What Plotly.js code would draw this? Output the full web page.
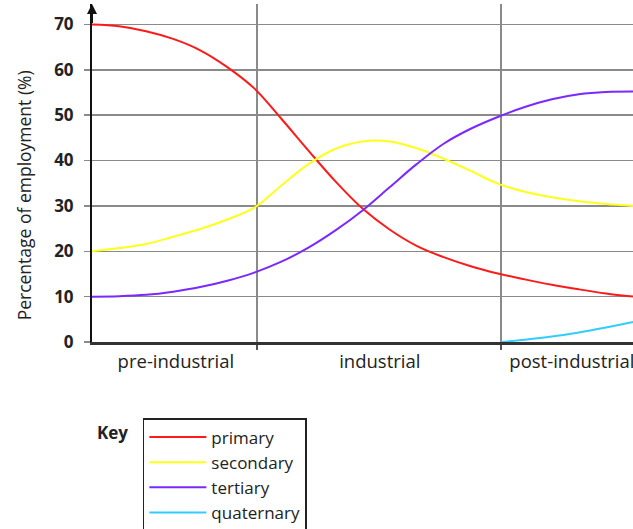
<!DOCTYPE html>
<html>
<head>
<meta charset="utf-8">
<script src="https://cdn.plot.ly/plotly-3.0.1.min.js"></script>
<style>html,body{margin:0;padding:0;background:#fff;}#chart{width:633px;height:529px;}</style>
</head>
<body>
<div id="chart"></div>
<script>
// Stages (x position units: 0 = start of chart, 100 = right edge)
const stageNames = ['pre-industrial', 'industrial', 'post-industrial'];
const stageCenters = [15.5, 53.2, 88.7];
const stageBounds = [30.5, 75.6];
const yTicks = [0, 10, 20, 30, 40, 50, 60, 70];

const timeX = [0, 5, 10, 15, 20, 25, 30, 35, 40, 45, 50, 55, 60, 65, 70, 75, 80, 85, 90, 95, 100];
const primaryY = [70, 69.6, 68.5, 66.8, 64.3, 60.6, 55.9, 49.2, 42.2, 35.4, 29.4, 24.8, 21.2, 18.7, 16.7, 15.1, 13.8, 12.6, 11.6, 10.7, 10.0];
const secondaryY = [20, 20.7, 21.6, 23.2, 24.9, 27.0, 29.6, 34.5, 39.2, 42.6, 44.2, 44.2, 42.7, 40.4, 37.7, 34.9, 33.1, 31.9, 31.0, 30.4, 30.0];
const tertiaryY = [10, 10.1, 10.4, 11.1, 12.1, 13.5, 15.3, 17.7, 20.8, 24.6, 29.0, 34.1, 39.2, 43.7, 47.0, 49.6, 51.8, 53.5, 54.6, 55.1, 55.2];

// quaternary only appears in the post-industrial stage
const quaternaryX = [75.6, 80, 85, 90, 95, 100];
const quaternaryY = [0, 0.5, 1.2, 2.1, 3.2, 4.4];

const seriesNames = ['primary', 'secondary', 'tertiary', 'quaternary'];
const seriesColors = ['#ff1a1a', '#ffff1a', '#7a29ff', '#33ccff'];
const seriesX = [timeX, timeX, timeX, quaternaryX];
const seriesY = [primaryY, secondaryY, tertiaryY, quaternaryY];

const FONT = 'Open Sans, Noto Sans, sans-serif';

const traces = seriesNames.map((n, i) => ({
  type: 'scatter', mode: 'lines', name: n,
  x: seriesX[i], y: seriesY[i],
  line: {color: seriesColors[i], width: 2, shape: 'spline', smoothing: 1},
  cliponaxis: false,
  hoverinfo: 'skip'
}));

const layout = {
  width: 633, height: 529,
  margin: {l: 92, r: 0, t: 4, b: 187, autoexpand: false},
  paper_bgcolor: '#fff', plot_bgcolor: '#fff',
  showlegend: true,
  legend: {
    x: 0.094, y: -0.225, xanchor: 'left', yanchor: 'top',
    bordercolor: '#222', borderwidth: 1.5,
    font: {family: FONT, size: 17, color: '#222'},
    itemwidth: 57,
    tracegroupgap: 0
  },
  xaxis: {
    range: [0, 100], fixedrange: true,
    tickmode: 'array', tickvals: stageBounds, showticklabels: false,
    ticks: 'outside', ticklen: 5, tickcolor: '#555', tickwidth: 1.5,
    showgrid: true, gridcolor: '#8a8a8a', gridwidth: 1.5,
    zeroline: false,
    showline: true, linecolor: '#333', linewidth: 2.5
  },
  xaxis2: {
    overlaying: 'x', range: [0, 100], fixedrange: true,
    tickmode: 'array', tickvals: stageCenters, ticktext: stageNames,
    side: 'bottom', anchor: 'y',
    ticks: '', showgrid: false, zeroline: false, showline: false,
    ticklabelstandoff: 6, ticklabeloverflow: 'allow',
    tickfont: {family: FONT, size: 18.5, color: '#222'}
  },
  yaxis: {
    range: [0, 74.5], fixedrange: true,
    tickmode: 'array', tickvals: yTicks,
    ticks: 'outside', ticklen: 6, tickcolor: '#8a8a8a', tickwidth: 1.5,
    showgrid: true, gridcolor: '#8a8a8a', gridwidth: 1.5,
    zeroline: false,
    showline: true, linecolor: '#111', linewidth: 2,
    ticklabelstandoff: 7,
    tickfont: {family: FONT, size: 17, color: '#222', weight: 'bold'}
  },
  annotations: [
    {x: 0, y: 74.5, ax: 0, ay: 70, xref: 'x', yref: 'y', axref: 'x', ayref: 'y',
     showarrow: true, arrowhead: 2, arrowsize: 1, arrowwidth: 2, arrowcolor: '#111', text: ''},
    {x: -0.125, y: 0.435, xref: 'paper', yref: 'paper', xanchor: 'center', yanchor: 'middle',
     textangle: -90, showarrow: false,
     text: 'Percentage of employment (%)', font: {family: FONT, size: 17.5, color: '#222'}},
    {x: 0.0055, y: -0.269, xref: 'paper', yref: 'paper', xanchor: 'left', yanchor: 'middle', showarrow: false,
     text: '<b>Key</b>', font: {family: FONT, size: 17, color: '#222'}}
  ]
};

// invisible helper trace so the second x axis (stage labels) is drawn
traces.push({type: 'scatter', x: [0], y: [0], xaxis: 'x2', yaxis: 'y', mode: 'markers',
  marker: {opacity: 0}, showlegend: false, hoverinfo: 'skip'});

Plotly.newPlot('chart', traces, layout, {displayModeBar: false, staticPlot: true});
</script>
</body>
</html>
